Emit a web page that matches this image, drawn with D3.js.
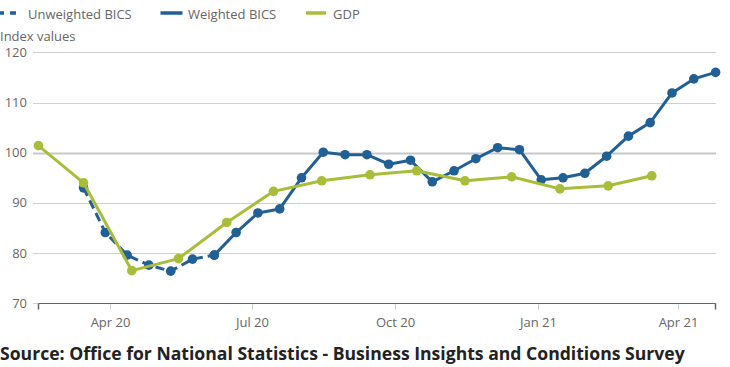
<!DOCTYPE html>
<html>
<head>
<meta charset="utf-8">
<script src="https://cdn.jsdelivr.net/npm/d3@7"></script>
<style>
  html, body { margin: 0; padding: 0; background: #fff; }
  svg { display: block; font-family: "Open Sans", sans-serif; }
</style>
</head>
<body>
<div id="chart"></div>
<script>
// ---- Data ----
const unweightedDates = ["2020-03-15","2020-03-29","2020-04-12","2020-04-26","2020-05-10","2020-05-24","2020-06-07"];
const unweightedValues = [93.0, 84.1, 79.6, 77.6, 76.4, 78.8, 79.6];

const weightedDates = ["2020-06-07","2020-06-21","2020-07-05","2020-07-19","2020-08-02","2020-08-16","2020-08-30",
  "2020-09-13","2020-09-27","2020-10-11","2020-10-25","2020-11-08","2020-11-22","2020-12-06","2020-12-20",
  "2021-01-03","2021-01-17","2021-01-31","2021-02-14","2021-02-28","2021-03-14","2021-03-28","2021-04-11","2021-04-25"];
const weightedValues = [79.6, 84.1, 88.0, 88.8, 95.0, 100.1, 99.6, 99.6, 97.7, 98.5, 94.2, 96.4, 98.8, 101.0, 100.6,
  94.6, 95.0, 95.9, 99.3, 103.3, 106.0, 111.9, 114.7, 116.0];

const gdpDates = ["2020-02-15","2020-03-15","2020-04-15","2020-05-15","2020-06-15","2020-07-15","2020-08-15",
  "2020-09-15","2020-10-15","2020-11-15","2020-12-15","2021-01-15","2021-02-15","2021-03-15"];
const gdpValues = [101.4, 94.0, 76.5, 78.9, 86.1, 92.3, 94.4, 95.6, 96.4, 94.4, 95.2, 92.8, 93.4, 95.4];

const yTicks = [70, 80, 90, 100, 110, 120];
const xTickDates = ["2020-04-01","2020-07-01","2020-10-01","2021-01-01","2021-04-01"];
const xTickLabels = ["Apr 20","Jul 20","Oct 20","Jan 21","Apr 21"];
const seriesNames = ["Unweighted BICS", "Weighted BICS", "GDP"];

// ---- Setup ----
const W = 730, H = 367;
const parse = d3.timeParse("%Y-%m-%d");
const BLUE = "#206095", GREEN = "#a8bd3a";

const svg = d3.select("#chart").append("svg").attr("width", W).attr("height", H);

const x = d3.scaleTime()
  .domain([parse("2020-02-15"), parse("2021-04-25")])
  .range([38.4, 715.6]);
const y = d3.scaleLinear().domain([70, 120]).range([303.3, 52.3]);

// Gridlines + y labels
const g = svg.append("g");
yTicks.forEach(t => {
  g.append("line")
    .attr("x1", 33).attr("x2", 716)
    .attr("y1", Math.round(y(t)) + 0.5).attr("y2", Math.round(y(t)) + 0.5)
    .attr("stroke", t === 100 ? "#c8c8c8" : "#d0d0d0")
    .attr("stroke-width", t === 100 ? 2.2 : 1);
  g.append("text")
    .attr("x", 27).attr("y", y(t))
    .attr("dy", "0.35em")
    .attr("text-anchor", "end")
    .attr("font-size", 13)
    .attr("fill", "#666")
    .text(t);
});

// X axis
const axisY = Math.round(y(70)) + 0.5;
xTickDates.forEach((d, i) => {
  const px = Math.round(x(parse(d))) + 0.5;
  g.append("line").attr("x1", px).attr("x2", px).attr("y1", axisY).attr("y2", axisY + 6)
    .attr("stroke", "#ccc").attr("stroke-width", 1);
  g.append("text").attr("x", px).attr("y", axisY + 23)
    .attr("text-anchor", "middle").attr("font-size", 13).attr("fill", "#666")
    .text(xTickLabels[i]);
});
g.append("line").attr("x1", 38.5).attr("x2", 715.5).attr("y1", axisY).attr("y2", axisY)
  .attr("stroke", "#666").attr("stroke-width", 1.2);
[38.5, 715.5].forEach(px => {
  g.append("line").attr("x1", px).attr("x2", px).attr("y1", axisY).attr("y2", axisY + 6)
    .attr("stroke", "#666").attr("stroke-width", 1.5);
});

// Lines
const line = d3.line().x(d => x(d.date)).y(d => y(d.value));
function series(dates, values) {
  return dates.map((d, i) => ({ date: parse(d), value: values[i] }));
}
function drawSeries(data, color, dashed) {
  svg.append("path").datum(data)
    .attr("d", line)
    .attr("fill", "none")
    .attr("stroke", color)
    .attr("stroke-width", 3)
    .attr("stroke-linejoin", "round")
    .attr("stroke-dasharray", dashed ? "9,5" : null);
  svg.append("g").selectAll("circle").data(data).join("circle")
    .attr("cx", d => x(d.date)).attr("cy", d => y(d.value))
    .attr("r", 4.8).attr("fill", color);
}
drawSeries(series(unweightedDates, unweightedValues), BLUE, true);
drawSeries(series(weightedDates, weightedValues), BLUE, false);
drawSeries(series(gdpDates, gdpValues), GREEN, false);

// Legend
const leg = svg.append("g");
const legItems = [
  { x1: -6, x2: 16, tx: 28, color: BLUE, dash: "10,6" },
  { x1: 160.5, x2: 182.5, tx: 188, color: BLUE, dash: null },
  { x1: 306, x2: 326, tx: 333, color: GREEN, dash: null }
];
legItems.forEach((it, i) => {
  leg.append("line").attr("x1", it.x1).attr("x2", it.x2).attr("y1", 13).attr("y2", 13)
    .attr("stroke", it.color).attr("stroke-width", 3.5).attr("stroke-dasharray", it.dash);
  leg.append("text").attr("x", it.tx).attr("y", 14).attr("dy", "0.35em")
    .attr("font-size", 13).attr("fill", "#666").text(seriesNames[i]);
});

svg.append("text").attr("x", 0).attr("y", 36).attr("dy", "0.35em")
  .attr("font-size", 13).attr("fill", "#666").text("Index values");

// Source
svg.append("text").attr("x", 0).attr("y", 359.5)
  .attr("font-size", 17.6).attr("font-weight", "bold").attr("fill", "#222")
  .text("Source: Office for National Statistics - Business Insights and Conditions Survey");
</script>
</body>
</html>
